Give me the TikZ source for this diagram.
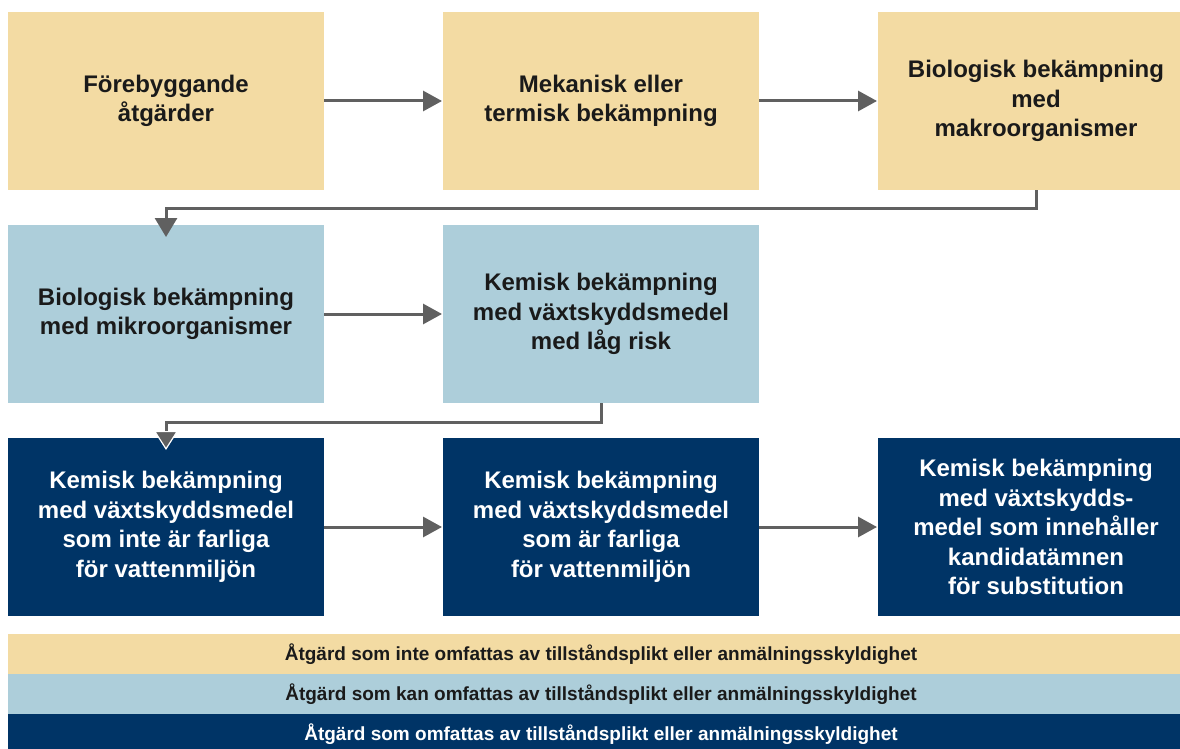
\documentclass[tikz,border=0pt]{standalone}
\usepackage{fontspec}
\setmainfont{Liberation Sans}
\usetikzlibrary{arrows.meta,calc}
\definecolor{beige}{HTML}{F3DBA3}
\definecolor{lblue}{HTML}{ADCEDA}
\definecolor{navy}{HTML}{003466}
\definecolor{arrgray}{HTML}{606060}
\definecolor{txtdark}{HTML}{1A1A1A}
\tikzset{
  box/.style={minimum width=316pt, minimum height=178pt, inner sep=0pt, outer sep=0pt,
    align=center, font=\fontsize{24}{29.5}\selectfont\bfseries},
  bbox/.style={box, fill=beige, text=txtdark},
  lbox/.style={box, fill=lblue, text=txtdark},
  nbox/.style={box, fill=navy, text=white},
  legbar/.style={minimum width=1186pt, minimum height=40pt, inner sep=0pt, outer sep=0pt,
    font=\fontsize{19}{22}\selectfont\bfseries},
  harr/.style={draw=arrgray, line width=3pt, -{Triangle[length=19pt,width=20pt]}},
  conn/.style={draw=arrgray, line width=3pt, -{Triangle[length=19pt,width=22pt]}},
  connw/.style={draw=arrgray, line width=3pt, -{Triangle[length=19pt,width=24pt,fill=arrgray,color=white,line width=1.2pt]}},
}
\begin{document}
\begin{tikzpicture}[x=1pt,y=-1pt]
\clip (0,0) rectangle (1180,749);
\fill[white] (0,0) rectangle (1180,749);
% row 1
\node[bbox] (a1) at (166,101) {Förebyggande\\åtgärder};
\node[bbox] (a2) at (601,101) {Mekanisk eller\\termisk bekämpning};
\node[bbox] (a3) at (1036,101) {Biologisk bekämpning\\med\\makroorganismer};
% row 2
\node[lbox] (b1) at (166,314) {Biologisk bekämpning\\med mikroorganismer};
\node[lbox] (b2) at (601,314) {Kemisk bekämpning\\med växtskyddsmedel\\med låg risk};
% row 3
\node[nbox] (c1) at (166,527) {Kemisk bekämpning\\med växtskyddsmedel\\som inte är farliga\\för vattenmiljön};
\node[nbox] (c2) at (601,527) {Kemisk bekämpning\\med växtskyddsmedel\\som är farliga\\för vattenmiljön};
\node[nbox] (c3) at (1036,527) {Kemisk bekämpning\\med växtskydds-\\medel som innehåller\\kandidatämnen\\för substitution};
% legend
\node[legbar, fill=beige, text=txtdark] (l1) at (601,654) {Åtgärd som inte omfattas av tillståndsplikt eller anmälningsskyldighet};
\node[legbar, fill=lblue, text=txtdark] (l2) at (601,694) {Åtgärd som kan omfattas av tillståndsplikt eller anmälningsskyldighet};
\node[legbar, fill=navy, text=white] (l3) at (601,734) {Åtgärd som omfattas av tillståndsplikt eller anmälningsskyldighet};
% horizontal arrows
\draw[harr] (a1.east) -- ([xshift=-1pt]a2.west);
\draw[harr] (a2.east) -- ([xshift=-1pt]a3.west);
\draw[harr] (b1.east) -- ([xshift=-1pt]b2.west);
\draw[harr] (c1.east) -- ([xshift=-1pt]c2.west);
\draw[harr] (c2.east) -- ([xshift=-1pt]c3.west);
% connectors
\coordinate (t1) at ([yshift=-12pt]b1.north);
\coordinate (t2) at ([yshift=-12pt]c1.north);
\draw[conn] (a3.south) -- ++(0,18) -| (t1);
\draw[connw] (b2.south) -- ++(0,19) -| (t2);
\end{tikzpicture}
\end{document}
